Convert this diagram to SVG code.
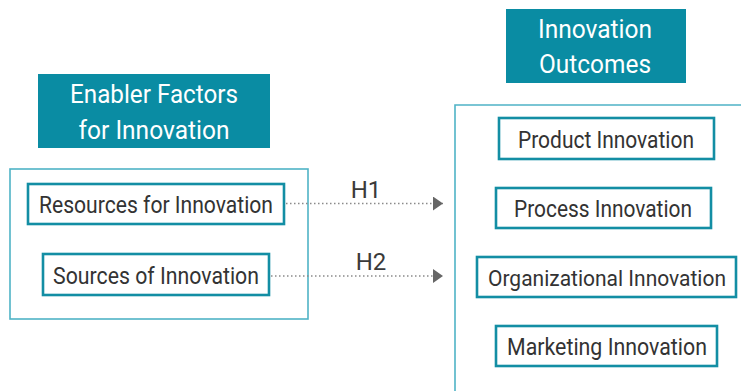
<svg xmlns="http://www.w3.org/2000/svg" width="741" height="391" viewBox="0 0 741 391">
<defs>
<style>
.hdr{fill:#0a8ca3}
.hdrt{fill:#ffffff;font-family:Roboto,"Liberation Sans",sans-serif;font-size:26px;text-anchor:middle}
.outer{fill:none;stroke:#4fb3c6;stroke-width:1.6}
.item{fill:#ffffff;stroke:#138ea4;stroke-width:2.6}
.itemt{fill:#333333;font-family:Roboto,"Liberation Sans",sans-serif;font-size:24.5px;text-anchor:middle}
.conn{fill:none;stroke:#8a8a8a;stroke-width:1.3;stroke-dasharray:1.5 2.5}
.lbl{fill:#3a3a3a;font-family:Roboto,"Liberation Sans",sans-serif;font-size:24px;text-anchor:middle}
</style>
<marker id="arr" markerWidth="10" markerHeight="14" refX="10" refY="7" orient="auto" markerUnits="userSpaceOnUse">
<path d="M0,0 L10,7 L0,14 Z" fill="#666666"/>
</marker>
</defs>
<rect width="741" height="391" fill="#ffffff"/>
<g id="enabler-header">
<rect class="hdr" x="38" y="74" width="232" height="74"/>
<text class="hdrt" x="154" y="103" textLength="168" lengthAdjust="spacingAndGlyphs">Enabler Factors</text>
<text class="hdrt" x="154" y="139" textLength="151" lengthAdjust="spacingAndGlyphs">for Innovation</text>
</g>
<g id="enabler-group">
<rect class="outer" x="10" y="169" width="298" height="150"/>
</g>
<g id="resources">
<rect class="item" x="28" y="184" width="256" height="40"/>
<text class="itemt" x="156" y="213" textLength="234" lengthAdjust="spacingAndGlyphs">Resources for Innovation</text>
</g>
<g id="sources">
<rect class="item" x="43" y="254" width="226" height="41"/>
<text class="itemt" x="156" y="284" textLength="206" lengthAdjust="spacingAndGlyphs">Sources of Innovation</text>
</g>
<g id="outcomes-header">
<rect class="hdr" x="506" y="9" width="180" height="74"/>
<text class="hdrt" x="595" y="38" textLength="114" lengthAdjust="spacingAndGlyphs">Innovation</text>
<text class="hdrt" x="595" y="73" textLength="112" lengthAdjust="spacingAndGlyphs">Outcomes</text>
</g>
<g id="outcomes-group">
<path class="outer" d="M455,391 L455,105 L741,105"/>
</g>
<g id="product">
<rect class="item" x="499" y="118" width="215" height="41"/>
<text class="itemt" x="606" y="148" textLength="176" lengthAdjust="spacingAndGlyphs">Product Innovation</text>
</g>
<g id="process">
<rect class="item" x="496" y="188" width="215" height="40"/>
<text class="itemt" x="603" y="217" textLength="178" lengthAdjust="spacingAndGlyphs">Process Innovation</text>
</g>
<g id="organizational">
<rect class="item" x="477" y="257" width="259" height="40"/>
<text class="itemt" x="607" y="286" style="font-size:22px" textLength="238" lengthAdjust="spacingAndGlyphs">Organizational Innovation</text>
</g>
<g id="marketing">
<rect class="item" x="496" y="326" width="221" height="40"/>
<text class="itemt" x="607" y="355" textLength="200" lengthAdjust="spacingAndGlyphs">Marketing Innovation</text>
</g>
<g id="connectors">
<line class="conn" x1="286" y1="203.5" x2="443" y2="203.5" marker-end="url(#arr)"/>
<line class="conn" x1="271" y1="276" x2="443" y2="276" marker-end="url(#arr)"/>
<text class="lbl" x="366" y="198">H1</text>
<text class="lbl" x="371" y="270">H2</text>
</g>
</svg>
